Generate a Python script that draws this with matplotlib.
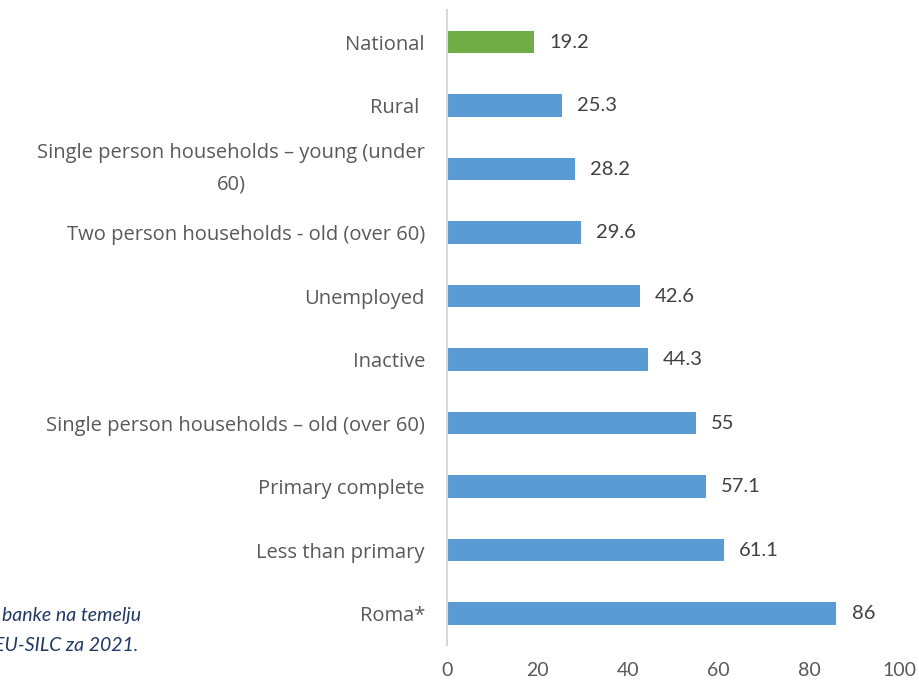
import matplotlib.pyplot as plt

plt.rcParams['font.family'] = ['Lato', 'DejaVu Sans']

categories = ['National', 'Rural ', 'Single person households \u2013 young (under\n60)',
              'Two person households - old (over 60)', 'Unemployed', 'Inactive',
              'Single person households \u2013 old (over 60)', 'Primary complete',
              'Less than primary', 'Roma*']
values = [19.2, 25.3, 28.2, 29.6, 42.6, 44.3, 55, 57.1, 61.1, 86]
labels = ['19.2', '25.3', '28.2', '29.6', '42.6', '44.3', '55', '57.1', '61.1', '86']
colors = ['#70AD47'] + ['#5B9BD5'] * 9

fig = plt.figure(figsize=(9.2, 6.85), dpi=100)
ax = fig.add_axes([0.486, 0.058, 0.492, 0.927])

pos = list(range(len(categories)))
ax.barh(pos, values, height=0.35, color=colors)
ax.set_ylim(len(categories) - 0.5, -0.5)
ax.set_xlim(0, 100)
ax.set_xticks([0, 20, 40, 60, 80, 100])
ax.set_yticks(pos)
ax.set_yticklabels(categories, multialignment='center', linespacing=1.75,
                   family=['Open Sans', 'DejaVu Sans'])
ax.get_yticklabels()[2].set_va('center')

for p, v, l in zip(pos, values, labels):
    ax.annotate(l, (v, p), xytext=(11, 0), textcoords='offset points',
                va='center', ha='left', fontsize=14.5, color='#404040')

for s in ['top', 'right', 'bottom']:
    ax.spines[s].set_visible(False)
ax.spines['left'].set_color('#D9D9D9')
ax.spines['left'].set_linewidth(1.5)
ax.tick_params(axis='y', length=0, pad=16, labelsize=14.5, labelcolor='#595959')
ax.tick_params(axis='x', length=0, pad=12, labelsize=14, labelcolor='#595959')

# source note, cut off at the left edge
fig.text(0.002, 0.093, 'banke na temelju', fontsize=14, style='italic', color='#1F3864')
fig.text(-0.007, 0.049, 'EU-SILC za 2021.', fontsize=14, style='italic', color='#1F3864')

fig.savefig('out.png', dpi=100)
